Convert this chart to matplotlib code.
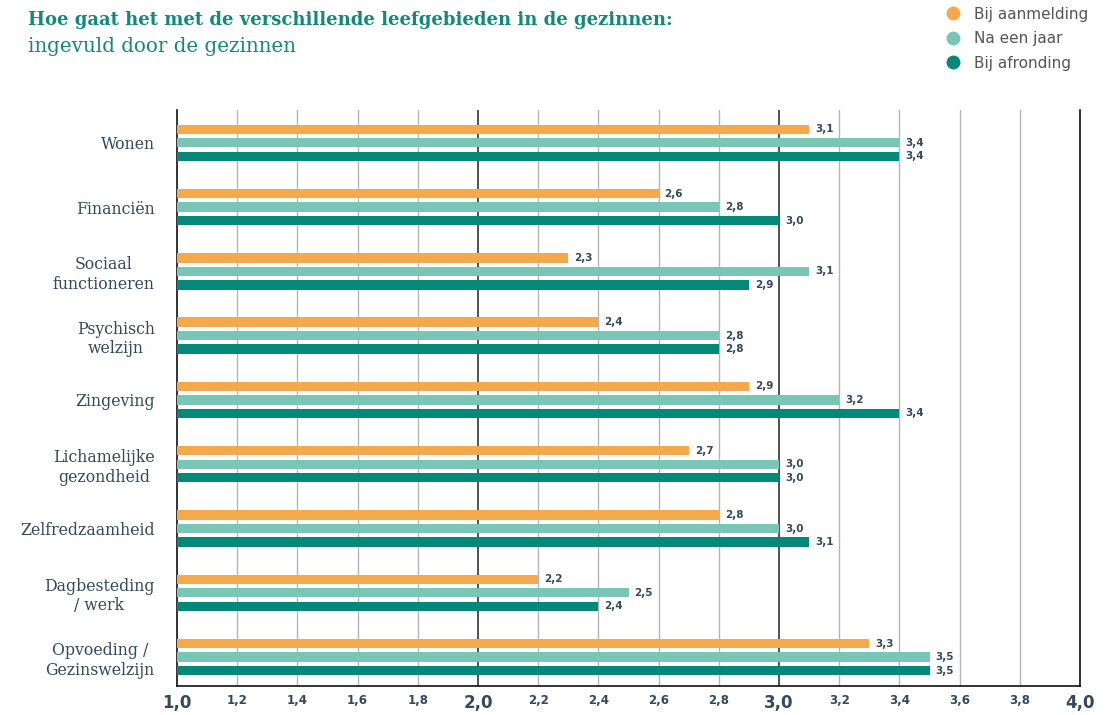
import matplotlib
matplotlib.use("Agg")
import matplotlib.pyplot as plt
from matplotlib.lines import Line2D
import numpy as np

categories = ["Wonen", "Financiën", "Sociaal\nfunctioneren", "Psychisch\nwelzijn",
              "Zingeving", "Lichamelijke\ngezondheid", "Zelfredzaamheid",
              "Dagbesteding\n/ werk", "Opvoeding /\nGezinswelzijn"]
series_names = ["Bij aanmelding", "Na een jaar", "Bij afronding"]
aanmelding = [3.1, 2.6, 2.3, 2.4, 2.9, 2.7, 2.8, 2.2, 3.3]
een_jaar = [3.4, 2.8, 3.1, 2.8, 3.2, 3.0, 3.0, 2.5, 3.5]
afronding = [3.4, 3.0, 2.9, 2.8, 3.4, 3.0, 3.1, 2.4, 3.5]
xticks = [1.0, 1.2, 1.4, 1.6, 1.8, 2.0, 2.2, 2.4, 2.6, 2.8, 3.0, 3.2, 3.4, 3.6, 3.8, 4.0]

colors = ["#F5A94A", "#79C5B6", "#068879"]
text_col = "#34495a"
title_col = "#13897a"

fig = plt.figure(figsize=(11.11, 7.15), dpi=100)
ax = fig.add_axes([177/1111, 1 - 686/715, (1080-177)/1111, (686-110)/715])

y = np.arange(len(categories))
offsets = [-0.21, 0.0, 0.21]
bh = 0.145
base = 1.0
for vals, off, c in zip([aanmelding, een_jaar, afronding], offsets, colors):
    widths = [v - base for v in vals]
    ax.barh(y + off, widths, left=base, height=bh, color=c, zorder=3)
    for yi, v in zip(y, vals):
        ax.text(v + 0.02, yi + off, f"{v:.1f}".replace(".", ","), va="center", ha="left",
                fontsize=7.5, fontweight="bold", color=text_col, zorder=4)

ax.set_xlim(1.0, 4.0)
ax.set_ylim(8.45, -0.51)

# grid lines
for xt in xticks[1:-1]:
    major = abs(xt - round(xt)) < 1e-9
    ax.axvline(xt, color="#222222" if major else "#b5b5b5",
               lw=1.1 if major else 1.0, zorder=1)

ax.set_xticks(xticks)
ax.set_xticklabels([f"{t:.1f}".replace(".", ",") for t in xticks])
for lab, t in zip(ax.get_xticklabels(), xticks):
    major = abs(t - round(t)) < 1e-9
    lab.set_fontsize(12 if major else 8.5)
    lab.set_fontweight("bold")
    lab.set_color(text_col)
ax.tick_params(axis="x", length=0, pad=6)

ax.set_yticks(y)
ax.set_yticklabels(categories, fontfamily="DejaVu Serif", fontsize=11.3,
                   color=text_col, multialignment="center")
ax.tick_params(axis="y", length=0, pad=16)

for s in ["top"]:
    ax.spines[s].set_visible(False)
for s in ["left", "bottom", "right"]:
    ax.spines[s].set_color("#111111")
    ax.spines[s].set_linewidth(1.2)

fig.text(28/1111, 1 - 20/715, "Hoe gaat het met de verschillende leefgebieden in de gezinnen:",
         fontfamily="DejaVu Serif", fontweight="bold", fontsize=13, color=title_col,
         va="center", ha="left")
fig.text(28/1111, 1 - 47/715, "ingevuld door de gezinnen",
         fontfamily="DejaVu Serif", fontsize=14.3, color=title_col, va="center", ha="left")

handles = [Line2D([0], [0], marker="o", color="w", markerfacecolor=c, markersize=11,
                  linestyle="None") for c in colors]
fig.legend(handles, series_names, loc="upper left", bbox_to_anchor=(930/1111, 1 + 7/715),
           frameon=False, fontsize=11, labelcolor="#555555", handletextpad=0.8,
           labelspacing=0.62, handlelength=1.2)

fig.savefig("out.png", dpi=100)
